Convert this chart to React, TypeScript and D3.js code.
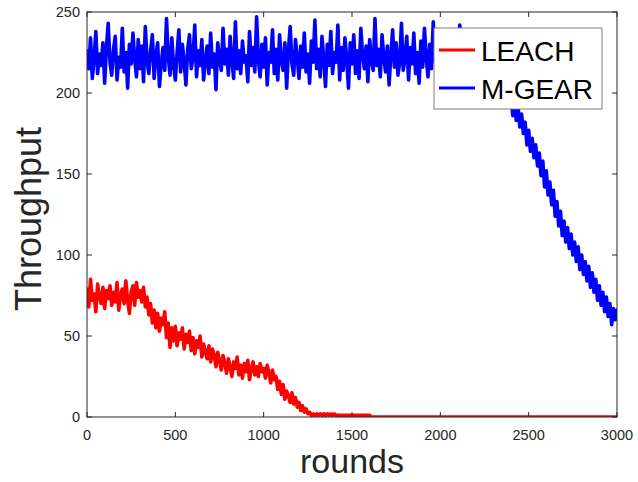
import React from "react";
import * as d3 from "d3";

// rounds sampled every 10
const ROUND_STEP = 10;
const X_TICKS = [0, 500, 1000, 1500, 2000, 2500, 3000];
const Y_TICKS = [0, 50, 100, 150, 200, 250];
const SERIES_NAMES = ["LEACH", "M-GEAR"];
const SERIES_COLORS = ["#ff0000", "#0000ff"];

const LEACH = [
  79, 68, 85, 72, 76, 65, 82, 74, 70, 80,
  67, 78, 73, 81, 69, 77, 71, 83, 66, 75,
  79, 70, 84, 72, 64, 77, 81, 69, 83, 74,
  78, 71, 80, 68, 74, 63, 70, 58, 66, 55,
  64, 53, 61, 57, 65, 49, 58, 43, 55, 47,
  56, 44, 52, 48, 55, 42, 51, 46, 53, 41,
  49, 39, 47, 43, 50, 37, 45, 40, 36, 44,
  34, 42, 38, 31, 40, 35, 29, 38, 33, 27,
  36, 31, 25, 34, 30, 37, 26, 32, 24, 33,
  28, 35, 23, 30, 34, 26, 31, 25, 33, 28,
  30, 24, 32, 27, 21, 29, 23, 25, 17, 22,
  14, 20, 11, 16, 13, 9, 15, 8, 12, 6,
  9, 4, 7, 3, 5, 2, 3, 1, 2, 1,
  2, 1, 2, 1, 2, 1, 2, 1, 2, 1,
  2, 1, 1, 1, 1, 1, 1, 1, 1, 1,
  1, 1, 1, 1, 1, 1, 1, 1, 1, 1,
  1, 0, 0, 0, 0, 0, 0, 0, 0, 0,
  0, 0, 0, 0, 0, 0, 0, 0, 0, 0,
  0, 0, 0, 0, 0, 0, 0, 0, 0, 0,
  0, 0, 0, 0, 0, 0, 0, 0, 0, 0,
  0, 0, 0, 0, 0, 0, 0, 0, 0, 0,
  0, 0, 0, 0, 0, 0, 0, 0, 0, 0,
  0, 0, 0, 0, 0, 0, 0, 0, 0, 0,
  0, 0, 0, 0, 0, 0, 0, 0, 0, 0,
  0, 0, 0, 0, 0, 0, 0, 0, 0, 0,
  0, 0, 0, 0, 0, 0, 0, 0, 0, 0,
  0, 0, 0, 0, 0, 0, 0, 0, 0, 0,
  0, 0, 0, 0, 0, 0, 0, 0, 0, 0,
  0, 0, 0, 0, 0, 0, 0, 0, 0, 0,
  0, 0, 0, 0, 0, 0, 0, 0, 0, 0,
  0,
];

const MGEAR = [
  226, 215, 234, 209, 221, 238, 212, 224, 217, 231,
  206, 228, 243, 219, 211, 227, 235, 208, 222, 216,
  240, 213, 225, 203, 230, 218, 237, 221, 210, 233,
  215, 229, 207, 241, 220, 212, 226, 236, 209, 223,
  231, 204, 218, 228, 214, 246, 222, 211, 234, 217,
  208, 225, 239, 213, 230, 219, 205, 227, 236, 215,
  222, 242, 210, 226, 217, 233, 208, 220, 229, 212,
  237, 216, 224, 202, 231, 221, 214, 240, 218, 227,
  211, 235, 220, 209, 244, 215, 226, 212, 232, 219,
  223, 207, 238, 217, 228, 213, 247, 221, 210, 230,
  216, 234, 205, 225, 219, 239, 212, 227, 208, 236,
  220, 214, 231, 203, 226, 241, 218, 211, 233, 222,
  209, 229, 216, 237, 213, 224, 206, 232, 219, 245,
  215, 227, 210, 235, 221, 204, 230, 217, 238, 212,
  225, 219, 242, 208, 228, 214, 234, 221, 203, 231,
  218, 236, 212, 226, 209, 240, 223, 215, 229, 207,
  233, 220, 214, 246, 217, 227, 210, 236, 222, 213,
  229, 205, 224, 239, 216, 231, 211, 219, 243, 214,
  221, 235, 208, 228, 218, 237, 212, 225, 206, 232,
  216, 240, 222, 210, 230, 215, 244, 219, 227, 209,
  234, 213, 226, 217, 238, 211, 223, 205, 231, 220,
  212, 242, 218, 229, 208, 236, 221, 214, 233, 216,
  227, 210, 239, 219, 224, 213, 235, 207, 222, 230,
  214, 226, 207, 220, 211, 217, 212, 200, 206, 193,
  199, 186, 194, 183, 191, 179, 187, 175, 182, 168,
  177, 164, 172, 160, 168, 155, 163, 149, 158, 142,
  152, 137, 145, 131, 140, 124, 133, 118, 127, 112,
  121, 108, 117, 104, 113, 100, 108, 96, 105, 91,
  100, 88, 96, 84, 93, 80, 89, 77, 85, 72,
  81, 69, 77, 65, 74, 62, 70, 57, 67, 60,
  66,
];

const W = 638;
const H = 482;
const M = { left: 87, right: 21, top: 12, bottom: 65 };
const INK = "#262626";
const FONT = "'Liberation Sans', Arial, Helvetica, sans-serif";

export default function App() {
  const x = d3.scaleLinear().domain([0, 3000]).range([M.left, W - M.right]);
  const y = d3.scaleLinear().domain([0, 250]).range([H - M.bottom, M.top]);
  const x0 = x.range()[0], x1 = x.range()[1];
  const y0 = y.range()[0], y1 = y.range()[1];

  const line = d3
    .line<number>()
    .x((_, i) => x(i * ROUND_STEP))
    .y((d) => y(d));

  const series = [LEACH, MGEAR];

  const legX = 434, legY = 28, legW = 168, legH = 81;

  return (
    <svg
      width={W}
      height={H}
      style={{ position: "absolute", left: 0, top: 0, background: "#fff" }}
      fontFamily={FONT}
    >
      <defs>
        <clipPath id="plot">
          <rect x={x0} y={y1} width={x1 - x0} height={y0 - y1} />
        </clipPath>
      </defs>
      <rect x={0} y={0} width={W} height={H} fill="#fff" />
      <g clipPath="url(#plot)">
        {series.map((s, k) => (
          <path
            key={k}
            d={line(s) || ""}
            fill="none"
            stroke={SERIES_COLORS[k]}
            strokeWidth={3.6}
            strokeLinejoin="round"
            strokeLinecap="round"
          />
        ))}
      </g>
      <rect x={x0} y={y1} width={x1 - x0} height={y0 - y1} fill="none" stroke={INK} strokeWidth={1} />
      {X_TICKS.map((t) => (
        <g key={"x" + t}>
          <line x1={x(t)} x2={x(t)} y1={y0} y2={y0 - 5} stroke={INK} />
          <line x1={x(t)} x2={x(t)} y1={y1} y2={y1 + 5} stroke={INK} />
          <text x={x(t)} y={y0 + 23} textAnchor="middle" fontSize={14.5} fill={INK}>
            {t}
          </text>
        </g>
      ))}
      {Y_TICKS.map((t) => (
        <g key={"y" + t}>
          <line x1={x0} x2={x0 + 5} y1={y(t)} y2={y(t)} stroke={INK} />
          <line x1={x1} x2={x1 - 5} y1={y(t)} y2={y(t)} stroke={INK} />
          <text x={x0 - 7} y={y(t) + 5} textAnchor="end" fontSize={14.5} fill={INK}>
            {t}
          </text>
        </g>
      ))}
      <text x={(x0 + x1) / 2} y={473} textAnchor="middle" fontSize={34} fill={INK}>
        rounds
      </text>
      <text
        transform={`translate(41, 219) rotate(-90)`}
        textAnchor="middle"
        fontSize={36}
        fill={INK}
      >
        Throughput
      </text>
      <rect x={legX} y={legY} width={legW} height={legH} fill="#fff" stroke="#7f7f7f" strokeWidth={1} />
      {SERIES_NAMES.map((n, k) => (
        <g key={n}>
          <line
            x1={legX + 5}
            x2={legX + 41}
            y1={legY + 22 + k * 38}
            y2={legY + 22 + k * 38}
            stroke={SERIES_COLORS[k]}
            strokeWidth={3}
          />
          <text x={legX + 47} y={legY + 33 + k * 38} fontSize={28} fill="#000">
            {n}
          </text>
        </g>
      ))}
    </svg>
  );
}
